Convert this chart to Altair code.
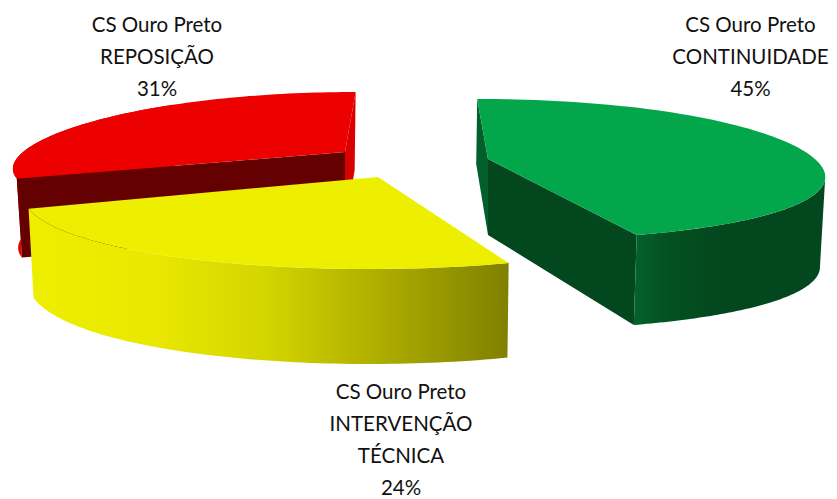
import math
import altair as alt
import pandas as pd

# Chart values
categories = ["CONTINUIDADE", "REPOSIÇÃO", "INTERVENÇÃO TÉCNICA"]
shares = [44.7, 31.3, 24.0]
label_lines = [
    ["CS Ouro Preto", "CONTINUIDADE", "45%"],
    ["CS Ouro Preto", "REPOSIÇÃO", "31%"],
    ["CS Ouro Preto", "INTERVENÇÃO", "TÉCNICA", "24%"],
]

# Projection of the tilted, exploded pie (one entry per slice)
apex_x = [488, 345, 378]
apex_y = [159, 152, 177]
radius = [327, 322, 346]
depth_front = [81, 73, 92]
depth_back = 60
wall_h = [90, 79, 95]
wall_taper = [0, 0, 0.1]
apex_h = [76, 78, 85]
back_h = [65, 78, 78]
vanish_x = 416

label_x = [750.5, 157, 401]
label_y = [16, 16, 383]

GREEN, RED, YELLOW = 0, 1, 2
# Clockwise from 12 o'clock: green, yellow, red
spans = {}
start = -90.0
for i in (GREEN, YELLOW, RED):
    spans[i] = (start, start + shares[i] * 3.6)
    start += shares[i] * 3.6


def project(i, t, drop=0.0):
    u, v = math.cos(t), math.sin(t)
    f = 1 + 0.2 * v + 0.05 * v * v
    x = vanish_x + (apex_x[i] - vanish_x + radius[i] * u) * f
    mid = (depth_front[i] + depth_back) / 2
    half = (depth_front[i] - depth_back) / 2
    y = apex_y[i] + v * (mid + half * v)
    if drop:
        x = vanish_x + (x - vanish_x) * 0.987
    return x, y + drop


def wall_at(i, t):
    return wall_h[i] * (1 - wall_taper[i] * (1 - math.sin(t)))


def arc(a0, a1, n=80):
    return [math.radians(a0 + (a1 - a0) * k / n) for k in range(n + 1)]


def top_poly(i):
    a0, a1 = spans[i]
    return [project(i, t) for t in arc(a0, a1)] + [(apex_x[i], apex_y[i])]


def outer_wall(i, a0=None, a1=None):
    s0, s1 = spans[i]
    ts = arc(s0 if a0 is None else a0, s1 if a1 is None else a1)
    return [project(i, t) for t in ts] + [project(i, t, wall_at(i, t)) for t in reversed(ts)]


def front_cut(i, angle):
    """Cut face facing the viewer: apex to the rim at a front angle."""
    t = math.radians(angle)
    return [(apex_x[i], apex_y[i]), project(i, t), project(i, t, wall_at(i, t)), (apex_x[i], apex_y[i] + apex_h[i])]


def back_cut(i, angle):
    """Cut face running from the apex to the rim at 12 o'clock."""
    p = project(i, math.radians(angle))
    return [p, (p[0] - 1, p[1] + back_h[i]), (apex_x[i], apex_y[i] + apex_h[i]), (apex_x[i], apex_y[i])]


def rightmost_angle(i):
    a0, a1 = spans[i]
    return max((a0 + (a1 - a0) * k / 400 for k in range(401)),
               key=lambda a: project(i, math.radians(a))[0])


X = alt.Scale(domain=[8, 829], range=[0, 821])
Y = alt.Scale(domain=[8, 499], range=[0, 491])


def grad(stops):
    return alt.Gradient(
        gradient="linear", x1=0, x2=1, y1=0, y2=0,
        stops=[alt.GradientStop(offset=o, color=c) for o, c in stops],
    )


def poly(pts, fill):
    df = pd.DataFrame({"x": [p[0] for p in pts], "y": [p[1] for p in pts], "i": range(len(pts))})
    return alt.Chart(df).mark_line(filled=True, fill=fill, strokeWidth=0, interpolate="linear-closed").encode(
        x=alt.X("x:Q", scale=X, axis=None),
        y=alt.Y("y:Q", scale=Y, axis=None),
        order=alt.Order("i:Q"),
    )


green_side = grad([(0, "#04612d"), (0.2, "#03501f"), (0.45, "#03471f"), (1, "#03471f")])
yellow_side = grad([(0, "#eeee00"), (0.25, "#e9e900"), (0.5, "#d4d400"), (0.75, "#aaaa00"), (1, "#808000")])

layers = [
    # red: back-left slice
    poly(outer_wall(RED, spans[RED][0], 230), "#e60000"),
    poly(back_cut(RED, spans[RED][1]), "#d80000"),
    poly(front_cut(RED, spans[RED][0]), "#640000"),
    poly(top_poly(RED), "#ec0000"),
    # yellow: front slice
    poly(outer_wall(YELLOW), yellow_side),
    poly(top_poly(YELLOW), "#eeee00"),
    # green: right slice
    poly(back_cut(GREEN, spans[GREEN][0]), "#03602c"),
    poly(front_cut(GREEN, spans[GREEN][1]), "#03471f"),
    poly(outer_wall(GREEN, rightmost_angle(GREEN), spans[GREEN][1]), green_side),
    poly(top_poly(GREEN), "#03a64a"),
]

labels = pd.DataFrame({"x": label_x, "y": label_y, "text": label_lines, "cat": categories})
text = alt.Chart(labels).mark_text(
    font="Lato", fontSize=20.5, color="#111111", align="center", baseline="top", lineHeight=32
).encode(
    x=alt.X("x:Q", scale=X, axis=None),
    y=alt.Y("y:Q", scale=Y, axis=None),
    text="text:N",
)

chart = (
    alt.layer(*layers, text)
    .properties(width=821, height=491, padding=0, autosize=alt.AutoSizeParams(type="none"))
    .configure_view(stroke=None)
)
chart.save("out.html", embed_options={"renderer": "svg", "actions": False})
